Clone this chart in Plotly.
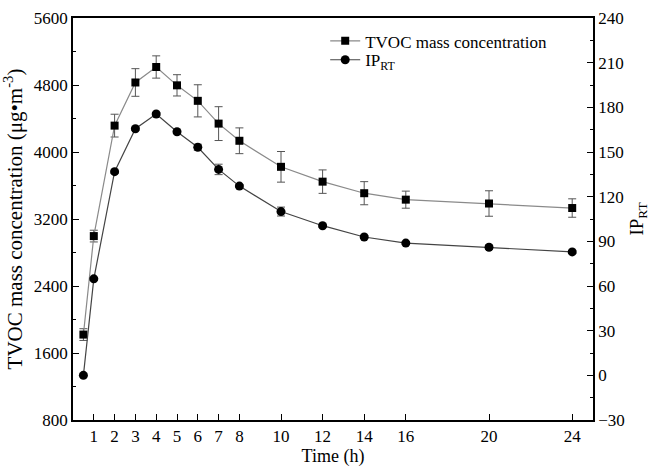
import plotly.graph_objects as go

# ---- data ----
time_h = [0.5, 1, 2, 3, 4, 5, 6, 7, 8, 10, 12, 14, 16, 20, 24]
tvoc = [1820, 2996, 4315, 4830, 5015, 4796, 4611, 4339, 4134, 3823, 3646, 3508, 3431, 3385, 3331]
tvoc_err = [70, 70, 136, 165, 133, 127, 192, 202, 154, 183, 140, 138, 102, 152, 110]
ip_rt = [0, 64.8, 136.8, 165.6, 175.5, 163.6, 153.2, 138.3, 127.1, 110.0, 100.5, 92.9, 88.8, 86.0, 82.9]
ip_err = [1, 1, 1, 1, 1, 1, 2, 3.5, 1, 3, 1, 1, 1, 1.5, 1]
x_ticks = [1, 2, 3, 4, 5, 6, 7, 8, 10, 12, 14, 16, 20, 24]

FONT = "Liberation Serif"

fig = go.Figure()
fig.add_trace(go.Scatter(
    x=time_h, y=tvoc, name="TVOC mass concentration", mode="lines+markers",
    line=dict(color="#8a8a8a", width=1.2),
    marker=dict(symbol="square", size=8, color="black"),
    error_y=dict(type="data", array=tvoc_err, color="#555555", thickness=1, width=4),
    legend="legend",
))
fig.add_trace(go.Scatter(
    x=time_h, y=ip_rt, name="IP<sub>RT</sub>", mode="lines+markers",
    line=dict(color="#444444", width=1.2),
    marker=dict(symbol="circle", size=9, color="black"),
    error_y=dict(type="data", array=ip_err, color="#555555", thickness=1, width=4),
    yaxis="y2", legend="legend2",
))

axis_common = dict(showline=True, linecolor="black", linewidth=1.5, ticks="inside",
                   tickcolor="black", tickwidth=1.2, showgrid=False, zeroline=False,
                   tickfont=dict(family=FONT, size=17, color="black"))

legend_common = dict(xanchor="left", yanchor="middle", bgcolor="rgba(0,0,0,0)",
                     font=dict(family=FONT, size=17), tracegroupgap=0,
                     borderwidth=0)

fig.update_layout(
    width=653, height=472,
    margin=dict(l=73, r=53, t=9, b=49),
    plot_bgcolor="white", paper_bgcolor="white",
    font=dict(family=FONT, color="black"),
    xaxis=dict(range=[0, 25], tickvals=x_ticks, ticklen=6, mirror=True,
               title=dict(text="Time (h)", font=dict(family=FONT, size=18), standoff=4),
               **axis_common),
    yaxis=dict(range=[800, 5600], dtick=800, tick0=800, ticklen=6,
               minor=dict(dtick=400, ticks="inside", ticklen=3, tickcolor="black"),
               title=dict(text="TVOC mass concentration (μg•m<sup>-3</sup>)",
                          font=dict(family=FONT, size=21), standoff=8),
               **axis_common),
    yaxis2=dict(range=[-30, 240], dtick=30, tick0=0, ticklen=6, overlaying="y", side="right",
                minor=dict(dtick=15, ticks="inside", ticklen=3, tickcolor="black"),
                title=dict(text="IP<sub>RT</sub>", font=dict(family=FONT, size=19), standoff=6),
                **axis_common),
    legend=dict(x=0.485, y=0.942, **legend_common),
    legend2=dict(x=0.485, y=0.895, **legend_common),
    showlegend=True,
)

fig.write_html("out.html")
